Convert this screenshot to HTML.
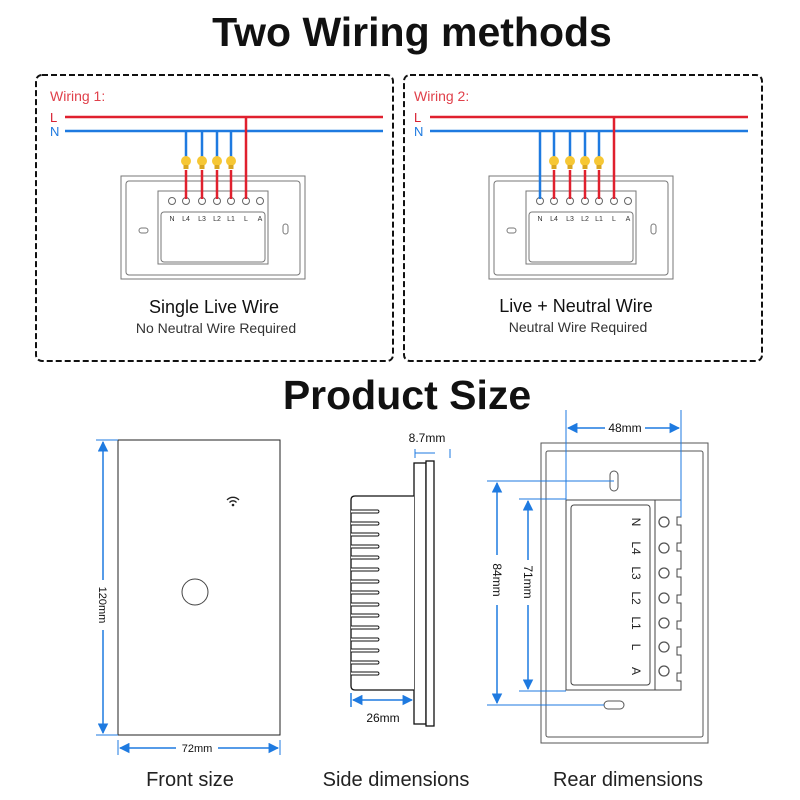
<!DOCTYPE html><html><head><style>body{margin:0;background:#fff}svg{display:block}text{font-family:"Liberation Sans",sans-serif}</style></head><body>
<svg width="800" height="800" viewBox="0 0 800 800" xmlns="http://www.w3.org/2000/svg">
<defs>
<marker id="a" viewBox="0 0 10 10" refX="9" refY="5" markerWidth="7" markerHeight="7" orient="auto-start-reverse"><path d="M0,0L10,5L0,10z" fill="#1e7ae0"/></marker>
<g id="bulb"><circle cx="0" cy="0" r="5" fill="#f6c735"/><rect x="-2.5" y="4" width="5" height="4" fill="#d9a620"/></g>
<g id="plate">
<rect x="0" y="0" width="184" height="103" fill="#fff" stroke="#777"/>
<rect x="5" y="5" width="174" height="94" rx="3" fill="none" stroke="#777"/>
<rect x="37" y="15" width="110" height="73" fill="none" stroke="#777"/>
<rect x="40" y="36" width="104" height="50" rx="3" fill="none" stroke="#777"/>
<g fill="#fff" stroke="#666"><circle cx="51" cy="25" r="3.5"/><circle cx="65" cy="25" r="3.5"/><circle cx="81" cy="25" r="3.5"/><circle cx="96" cy="25" r="3.5"/><circle cx="110" cy="25" r="3.5"/><circle cx="125" cy="25" r="3.5"/><circle cx="139" cy="25" r="3.5"/></g>
<g font-size="7" fill="#333" text-anchor="middle"><text x="51" y="45">N</text><text x="65" y="45">L4</text><text x="81" y="45">L3</text><text x="96" y="45">L2</text><text x="110" y="45">L1</text><text x="125" y="45">L</text><text x="139" y="45">A</text></g>
<rect x="18" y="52" width="9" height="5" rx="2.5" fill="none" stroke="#777"/>
<rect x="162" y="48" width="5" height="10" rx="2.5" fill="none" stroke="#777"/>
</g>
</defs>
<text x="412" y="46" font-size="41" font-weight="bold" text-anchor="middle" fill="#111">Two Wiring methods</text>
<rect x="36" y="75" width="357" height="286" rx="6" fill="none" stroke="#111" stroke-width="2" stroke-dasharray="6,3"/>
<rect x="404" y="75" width="358" height="286" rx="6" fill="none" stroke="#111" stroke-width="2" stroke-dasharray="6,3"/>
<text x="50" y="101" font-size="14" fill="#e0404a">Wiring 1:</text>
<text x="50" y="122" font-size="13" fill="#d82030">L</text><text x="50" y="136" font-size="13" fill="#1e7ae0">N</text>
<use href="#plate" x="121" y="176"/>
<g stroke-width="2.5"><line x1="65" y1="117" x2="383" y2="117" stroke="#e0202e"/><line x1="65" y1="131" x2="383" y2="131" stroke="#1e7ae0"/>
<g stroke="#1e7ae0"><line x1="186" y1="131" x2="186" y2="160"/><line x1="202" y1="131" x2="202" y2="160"/><line x1="217" y1="131" x2="217" y2="160"/><line x1="231" y1="131" x2="231" y2="160"/></g>
<g stroke="#e0202e"><line x1="186" y1="170" x2="186" y2="199"/><line x1="202" y1="170" x2="202" y2="199"/><line x1="217" y1="170" x2="217" y2="199"/><line x1="231" y1="170" x2="231" y2="199"/><line x1="246" y1="117" x2="246" y2="199"/></g></g>
<use href="#bulb" x="186" y="161"/><use href="#bulb" x="202" y="161"/><use href="#bulb" x="217" y="161"/><use href="#bulb" x="231" y="161"/>
<text x="214" y="313" font-size="18" text-anchor="middle" fill="#111">Single Live Wire</text>
<text x="216" y="333" font-size="14" text-anchor="middle" fill="#333">No Neutral Wire Required</text>
<text x="414" y="101" font-size="14" fill="#e0404a">Wiring 2:</text>
<text x="414" y="122" font-size="13" fill="#d82030">L</text><text x="414" y="136" font-size="13" fill="#1e7ae0">N</text>
<use href="#plate" x="489" y="176"/>
<g stroke-width="2.5"><line x1="430" y1="117" x2="748" y2="117" stroke="#e0202e"/><line x1="430" y1="131" x2="748" y2="131" stroke="#1e7ae0"/>
<g stroke="#1e7ae0"><line x1="540" y1="131" x2="540" y2="199"/><line x1="554" y1="131" x2="554" y2="160"/><line x1="570" y1="131" x2="570" y2="160"/><line x1="585" y1="131" x2="585" y2="160"/><line x1="599" y1="131" x2="599" y2="160"/></g>
<g stroke="#e0202e"><line x1="554" y1="170" x2="554" y2="199"/><line x1="570" y1="170" x2="570" y2="199"/><line x1="585" y1="170" x2="585" y2="199"/><line x1="599" y1="170" x2="599" y2="199"/><line x1="614" y1="117" x2="614" y2="199"/></g></g>
<use href="#bulb" x="554" y="161"/><use href="#bulb" x="570" y="161"/><use href="#bulb" x="585" y="161"/><use href="#bulb" x="599" y="161"/>
<text x="576" y="312" font-size="18" text-anchor="middle" fill="#111">Live + Neutral Wire</text>
<text x="578" y="332" font-size="14" text-anchor="middle" fill="#333">Neutral Wire Required</text>
<text x="407" y="409" font-size="41" font-weight="bold" text-anchor="middle" fill="#111">Product Size</text>
<rect x="118" y="440" width="162" height="295" fill="#fff" stroke="#222"/>
<circle cx="195" cy="592" r="13" fill="none" stroke="#444"/>
<g fill="none" stroke="#222" stroke-width="1.3"><path d="M227,500 a8,8 0 0 1 12,0"/><path d="M229.5,502.5 a4.5,4.5 0 0 1 7,0"/></g><circle cx="233" cy="505" r="1.3" fill="#222"/>
<g stroke="#1e7ae0" stroke-width="1.5"><line x1="96" y1="440" x2="118" y2="440" stroke-width="1"/><line x1="96" y1="735" x2="118" y2="735" stroke-width="1"/>
<line x1="103" y1="442" x2="103" y2="580" marker-start="url(#a)"/><line x1="103" y1="630" x2="103" y2="733" marker-end="url(#a)"/>
<line x1="118" y1="740" x2="118" y2="755" stroke-width="1"/><line x1="280" y1="740" x2="280" y2="755" stroke-width="1"/>
<line x1="120" y1="748" x2="176" y2="748" marker-start="url(#a)"/><line x1="218" y1="748" x2="278" y2="748" marker-end="url(#a)"/></g>
<text transform="translate(99,605) rotate(90)" font-size="11" text-anchor="middle" fill="#111">120mm</text>
<text x="197" y="752" font-size="11" text-anchor="middle" fill="#111">72mm</text>
<text x="190" y="786" font-size="20" text-anchor="middle" fill="#222">Front size</text>
<rect x="414" y="463" width="12" height="261" fill="#fff" stroke="#111" stroke-width="1.3"/>
<rect x="426" y="461" width="8" height="265" fill="#fff" stroke="#111" stroke-width="1.3"/>
<path d="M414,496 L355,496 Q351,496 351,500 L351,686 Q351,690 355,690 L414,690" fill="#fff" stroke="#111" stroke-width="1.3"/>
<g fill="#fff" stroke="#111"><path d="M351,510h27q2,1.5 0,3h-27"/><path d="M351,522h27q2,1.5 0,3h-27"/><path d="M351,533h27q2,1.5 0,3h-27"/><path d="M351,545h27q2,1.5 0,3h-27"/><path d="M351,556h27q2,1.5 0,3h-27"/><path d="M351,568h27q2,1.5 0,3h-27"/><path d="M351,580h27q2,1.5 0,3h-27"/><path d="M351,591h27q2,1.5 0,3h-27"/><path d="M351,603h27q2,1.5 0,3h-27"/><path d="M351,614h27q2,1.5 0,3h-27"/><path d="M351,626h27q2,1.5 0,3h-27"/><path d="M351,638h27q2,1.5 0,3h-27"/><path d="M351,649h27q2,1.5 0,3h-27"/><path d="M351,661h27q2,1.5 0,3h-27"/><path d="M351,672h27q2,1.5 0,3h-27"/></g>
<g stroke="#1e7ae0" stroke-width="1.5"><line x1="353" y1="700" x2="412" y2="700" marker-start="url(#a)" marker-end="url(#a)"/><line x1="351" y1="693" x2="351" y2="707"/>
<line x1="415" y1="449" x2="415" y2="458" stroke-width="1"/><line x1="415" y1="453" x2="435" y2="453" stroke-width="1"/><line x1="450" y1="449" x2="450" y2="458" stroke-width="1"/></g>
<text x="383" y="722" font-size="12" text-anchor="middle" fill="#111">26mm</text>
<text x="427" y="442" font-size="12" text-anchor="middle" fill="#111">8.7mm</text>
<text x="396" y="786" font-size="20" text-anchor="middle" fill="#222">Side dimensions</text>
<rect x="541" y="443" width="167" height="300" fill="#fff" stroke="#555"/>
<rect x="546" y="451" width="157" height="286" rx="2" fill="none" stroke="#555"/>
<rect x="610" y="471" width="8" height="20" rx="4" fill="none" stroke="#555"/>
<rect x="604" y="701" width="20" height="8" rx="4" fill="none" stroke="#555"/>
<rect x="566" y="500" width="89" height="190" fill="#fff" stroke="#444"/>
<rect x="571" y="505" width="79" height="180" rx="3" fill="none" stroke="#444"/>
<path d="M655,500 H681 V517 H677 V525 H681 V543 H677 V551 H681 V569 H677 V577 H681 V595 H677 V603 H681 V621 H677 V629 H681 V647 H677 V655 H681 V673 H677 V681 H681 V690 H655z" fill="#fff" stroke="#444"/>
<g fill="#fff" stroke="#555" stroke-width="1.3"><circle cx="664" cy="522" r="5"/><circle cx="664" cy="548" r="5"/><circle cx="664" cy="573" r="5"/><circle cx="664" cy="598" r="5"/><circle cx="664" cy="623" r="5"/><circle cx="664" cy="647" r="5"/><circle cx="664" cy="671" r="5"/></g>
<g font-size="12" fill="#222" text-anchor="middle"><text transform="translate(632,522) rotate(90)">N</text><text transform="translate(632,548) rotate(90)">L4</text><text transform="translate(632,573) rotate(90)">L3</text><text transform="translate(632,598) rotate(90)">L2</text><text transform="translate(632,623) rotate(90)">L1</text><text transform="translate(632,647) rotate(90)">L</text><text transform="translate(632,671) rotate(90)">A</text></g>
<g stroke="#1e7ae0" stroke-width="1.5">
<line x1="566" y1="410" x2="566" y2="500" stroke-width="1"/><line x1="681" y1="410" x2="681" y2="517" stroke-width="1"/>
<line x1="568" y1="428" x2="605" y2="428" marker-start="url(#a)"/><line x1="645" y1="428" x2="679" y2="428" marker-end="url(#a)"/>
<line x1="487" y1="481" x2="614" y2="481" stroke-width="1"/><line x1="487" y1="705" x2="604" y2="705" stroke-width="1"/>
<line x1="497" y1="483" x2="497" y2="555" marker-start="url(#a)"/><line x1="497" y1="605" x2="497" y2="703" marker-end="url(#a)"/>
<line x1="519" y1="499" x2="566" y2="499" stroke-width="1"/><line x1="519" y1="691" x2="566" y2="691" stroke-width="1"/>
<line x1="528" y1="501" x2="528" y2="560" marker-start="url(#a)"/><line x1="528" y1="605" x2="528" y2="689" marker-end="url(#a)"/></g>
<text x="625" y="432" font-size="12" text-anchor="middle" fill="#111">48mm</text>
<text transform="translate(493,580) rotate(90)" font-size="12" text-anchor="middle" fill="#111">84mm</text>
<text transform="translate(524,582) rotate(90)" font-size="12" text-anchor="middle" fill="#111">71mm</text>
<text x="628" y="786" font-size="20" text-anchor="middle" fill="#222">Rear dimensions</text>
</svg>
</body></html>
